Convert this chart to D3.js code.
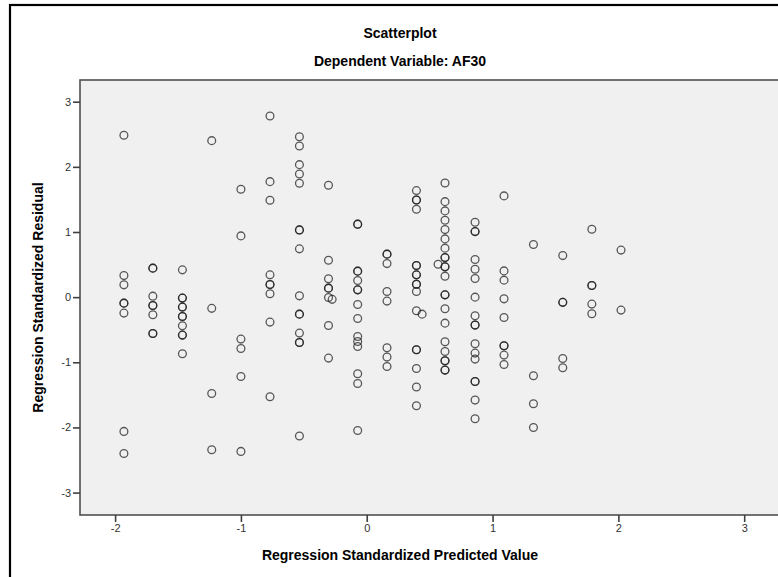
<!DOCTYPE html>
<html>
<head>
<meta charset="utf-8">
<script src="https://cdn.jsdelivr.net/npm/d3@7"></script>
<style>
  html, body { margin: 0; padding: 0; background: #ffffff; }
  svg { display: block; }
  text { font-family: Arial, "Liberation Sans", sans-serif; }
</style>
</head>
<body>
<svg id="chart" width="778" height="577"></svg>
<script>
// Residuals vs. predicted values from the regression on AF30.
// Predicted values fall on discrete levels; each level has its list of residuals.
const chartTitle = "Scatterplot";
const chartSubtitle = "Dependent Variable: AF30";
const xAxisTitle = "Regression Standardized Predicted Value";
const yAxisTitle = "Regression Standardized Residual";

const xTicks = [-2, -1, 0, 1, 2, 3];
const yTicks = [-3, -2, -1, 0, 1, 2, 3];

const predictedLevels = [
  -1.93, -1.70, -1.465, -1.232, -1.0, -0.769, -0.535, -0.304, -0.072,
  0.161, 0.395, 0.622, 0.861, 1.091, 1.325, 1.558, 1.789, 2.021
];

const residualsByLevel = [
  [2.485, 0.331, 0.189, -0.092, -0.092, -0.245, -2.061, -2.399],
  [0.445, 0.445, 0.015, -0.129, -0.129, -0.271, -0.558, -0.558],
  [0.419, -0.015, -0.015, -0.153, -0.153, -0.298, -0.298, -0.44, -0.583, -0.583, -0.870],
  [2.402, -0.172, -1.479, -2.342],
  [1.656, 0.940, -0.644, -0.788, -1.218, -2.368],
  [2.781, 1.773, 1.488, 0.342, 0.193, 0.193, 0.051, -0.383, -1.529],
  [2.463, 2.321, 2.034, 1.891, 1.748, 1.032, 1.032, 0.741, 0.020, -0.261, -0.261, -0.552, -0.696, -0.696, -2.132],
  [1.718, 0.567, 0.281, 0.138, 0.138, -0.006, -0.436, -0.936],
  [1.120, 1.120, 0.399, 0.399, 0.255, 0.112, 0.112, -0.113, -0.328, -0.604, -0.681, -0.758, -1.176, -1.325, -2.046],
  [0.660, 0.660, 0.515, 0.086, -0.061, -0.778, -0.920, -1.064],
  [1.635, 1.492, 1.492, 1.350, 0.485, 0.485, 0.342, 0.342, 0.199, 0.199, 0.086, -0.210, -0.808, -0.808, -1.095, -1.380, -1.667],
  [1.753, 1.466, 1.324, 1.181, 1.037, 0.894, 0.752, 0.607, 0.607, 0.465, 0.465, 0.322, 0.035, 0.035, -0.179, -0.399, -0.686, -0.834, -0.977, -0.977, -1.120, -1.120],
  [1.150, 1.006, 1.006, 0.577, 0.429, 0.285, 0.000, -0.287, -0.429, -0.429, -0.716, -0.859, -0.951, -1.294, -1.294, -1.580, -1.867],
  [1.554, 0.403, 0.261, -0.026, -0.313, -0.747, -0.747, -0.890, -1.034],
  [0.807, -1.207, -1.637, -2.000],
  [0.638, -0.080, -0.080, -0.942, -1.084],
  [1.043, 0.178, 0.178, -0.107, -0.256],
  [0.722, -0.199]
];

// Cases whose predicted value sits between the main levels.
const extraPredicted = [-0.275, 0.44, 0.567];
const extraResiduals = [-0.034, -0.261, 0.506];

const points = [];
predictedLevels.forEach((p, i) => {
  residualsByLevel[i].forEach(r => points.push({ x: p, y: r }));
});
extraPredicted.forEach((p, i) => points.push({ x: p, y: extraResiduals[i] }));

const svg = d3.select("#chart");

// Outer chart frame (left and top edges fall inside the view)
svg.append("rect")
  .attr("x", 10).attr("y", 5)
  .attr("width", 800).attr("height", 620)
  .attr("fill", "#ffffff")
  .attr("stroke", "#000000")
  .attr("stroke-width", 2.2);

const plot = { left: 80, top: 80, right: 790, bottom: 515 };

const x = d3.scaleLinear()
  .domain([-2.279, 3.364])
  .range([plot.left, plot.right]);
const y = d3.scaleLinear()
  .domain([-3.344, 3.333])
  .range([plot.bottom, plot.top]);

// Titles
svg.append("text")
  .attr("x", 400).attr("y", 38)
  .attr("text-anchor", "middle")
  .attr("font-size", 14).attr("font-weight", "bold")
  .attr("fill", "#000")
  .text(chartTitle);
svg.append("text")
  .attr("x", 400).attr("y", 66)
  .attr("text-anchor", "middle")
  .attr("font-size", 14).attr("font-weight", "bold")
  .attr("fill", "#000")
  .text(chartSubtitle);

// Plot background
svg.append("rect")
  .attr("x", plot.left).attr("y", plot.top)
  .attr("width", plot.right - plot.left)
  .attr("height", plot.bottom - plot.top)
  .attr("fill", "#f0f0f0")
  .attr("stroke", "#505050")
  .attr("stroke-width", 1.6);

// Axes, labelled with a plain hyphen for negatives
const tickLabel = d => String(d);
const xAxis = d3.axisBottom(x).tickValues(xTicks).tickSize(7).tickPadding(2)
  .tickFormat(tickLabel);
const yAxis = d3.axisLeft(y).tickValues(yTicks).tickSize(7).tickPadding(2)
  .tickFormat(tickLabel);

const gx = svg.append("g")
  .attr("transform", `translate(0,${plot.bottom})`)
  .call(xAxis);
const gy = svg.append("g")
  .attr("transform", `translate(${plot.left},0)`)
  .call(yAxis);

[gx, gy].forEach(g => {
  g.select(".domain").remove();
  g.selectAll(".tick line").attr("stroke", "#404040").attr("stroke-width", 1.6);
  g.selectAll(".tick text")
    .attr("font-size", 11)
    .attr("fill", "#333")
    .attr("font-family", "Arial, 'Liberation Sans', sans-serif");
});

// Axis titles
svg.append("text")
  .attr("x", 400).attr("y", 560)
  .attr("text-anchor", "middle")
  .attr("font-size", 14).attr("font-weight", "bold")
  .attr("fill", "#000")
  .text(xAxisTitle);
svg.append("text")
  .attr("transform", `translate(43,${(plot.top + plot.bottom) / 2}) rotate(-90)`)
  .attr("text-anchor", "middle")
  .attr("font-size", 14).attr("font-weight", "bold")
  .attr("fill", "#000")
  .text(yAxisTitle);

// Points
svg.append("g")
  .selectAll("circle")
  .data(points)
  .join("circle")
  .attr("cx", d => x(d.x))
  .attr("cy", d => y(d.y))
  .attr("r", 3.9)
  .attr("fill", "none")
  .attr("stroke", "#1a1a1a")
  .attr("stroke-opacity", 0.72)
  .attr("stroke-width", 1.3);
</script>
</body>
</html>
